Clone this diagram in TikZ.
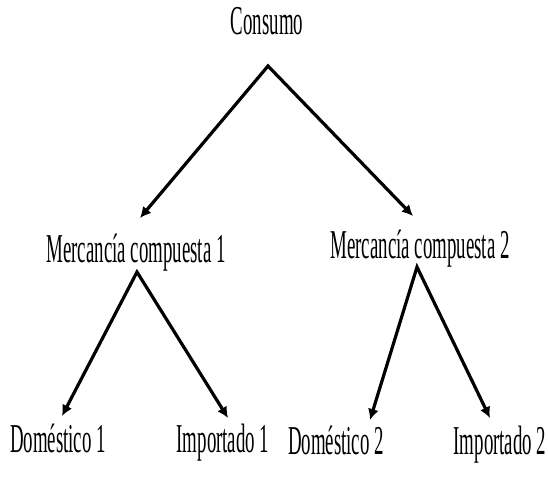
\documentclass[tikz,border=0pt]{standalone}
\usepackage{fontspec}
\setmainfont{Liberation Serif}[FakeStretch=0.46]
\usetikzlibrary{arrows.meta,positioning,calc}
\tikzset{
  lbl/.style={anchor=base,inner sep=0pt,font=\fontsize{41}{44}\selectfont},
  treearrow/.style={{Latex[length=11pt,width=11pt]}-{Latex[length=11pt,width=11pt]},line width=3.2pt,miter limit=20},
}
\begin{document}
\begin{tikzpicture}[x=1pt,y=-1pt]
  \useasboundingbox (0,0) rectangle (548,481);
  % labels
  \node[lbl] (cons) at (267,35) {Consumo};
  \node[lbl] (mc1) at (136,262) {Mercancía compuesta 1};
  \node[lbl] (mc2) at (420,258) {Mercancía compuesta 2};
  \node[lbl] (dom1) at (58,452) {Doméstico 1};
  \node[lbl] (imp1) at (223,452) {Importado 1};
  \node[lbl] (dom2) at (336,454) {Doméstico 2};
  \node[lbl] (imp2) at (500,454) {Importado 2};
  % apexes and tips
  \coordinate (top0) at (268,66);
  \coordinate (top1) at (137,272);
  \coordinate (top2) at (417,267);
  \coordinate (tipmc1) at (140,218);
  \coordinate (tipmc2) at (413,216);
  \coordinate (tipdom1) at (62,416);
  \coordinate (tipimp1) at (228,418);
  \coordinate (tipdom2) at (370,420);
  \coordinate (tipimp2) at (490,418);
  % arrows
  \draw[treearrow] (tipmc1) -- (top0) -- (tipmc2);
  \draw[treearrow] (tipdom1) -- (top1) -- (tipimp1);
  \draw[treearrow] (tipdom2) -- (top2) -- (tipimp2);
\end{tikzpicture}
\end{document}
